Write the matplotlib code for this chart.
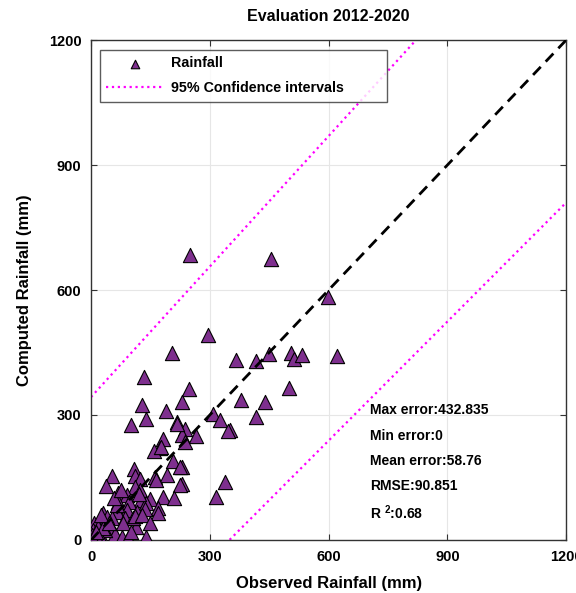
import matplotlib
matplotlib.use("Agg")
import matplotlib.pyplot as plt
import numpy as np

plt.rcParams['font.family'] = ['Liberation Sans', 'DejaVu Sans']
plt.rcParams['font.weight'] = 'bold'
plt.rcParams['mathtext.fontset'] = 'custom'
plt.rcParams['mathtext.bf'] = 'Liberation Sans:bold'
plt.rcParams['mathtext.rm'] = 'Liberation Sans:bold'

# observed vs computed rainfall (mm)
observed = [251, 455, 599, 295, 204, 367, 416, 449, 504, 512, 534, 622, 135, 248, 500,
            130, 231, 379, 440, 189, 140, 216, 307, 325, 417, 350, 345, 237, 231, 265,
            237, 229, 229, 338, 315,
            102, 218, 182, 174, 160, 176, 207, 224, 109, 54, 37, 111, 123, 161, 191,
            165, 224, 111, 123, 69, 92, 182, 210, 149, 126, 69, 96, 168, 140, 90,
            115, 65, 35, 31, 8, 113, 86, 107, 52, 50, 6, 18, 10, 28, 60,
            77, 94, 140, 35, 2, 18, 136, 170, 111, 65, 40, 23, 31, 14, 5,
            45, 80, 100, 120, 130, 150, 58, 75, 12, 25]
computed = [684, 674, 584, 492, 448, 432, 430, 446, 449, 434, 444, 442, 392, 362, 364,
            324, 332, 336, 332, 310, 291, 284, 302, 288, 296, 265, 262, 266, 252, 250,
            236, 176, 134, 140, 102,
            276, 278, 242, 220, 214, 222, 190, 176, 170, 154, 130, 154, 146, 150, 156,
            144, 132, 128, 120, 112, 108, 102, 100, 98, 96, 90, 90, 76, 88, 72,
            66, 68, 50, 64, 40, 30, 52, 52, 52, 32, 24, 12, 0, 4, 14,
            8, 4, 8, 24, 12, 32, 74, 64, 58, 84, 56, 8, 28, 4, 2,
            40, 40, 20, 110, 60, 40, 100, 120, 18, 60]

one_to_one = [0, 1200]
ci_x = [0, 1200]
ci_upper = [343, 1596]
ci_lower = [-333, 810]

stats = ["Max error:432.835", "Min error:0", "Mean error:58.76", "RMSE:90.851",
         r"R $^{\mathbf{2}}$:0.68"]

fig = plt.figure(figsize=(5.76, 5.93), dpi=100)
ax = fig.add_axes([0.158, 0.0894, 0.825, 0.8431])

ax.grid(True, color='#e6e6e6', linewidth=0.8, zorder=0)
ax.scatter(observed, computed, marker='^', s=105, facecolor='#7E2F8E',
           edgecolor='black', linewidth=0.8, zorder=3, label='Rainfall')
ax.plot(one_to_one, one_to_one, color='black', linestyle=(0, (4, 2.6)),
        linewidth=2, zorder=4)
ax.plot(ci_x, ci_upper, color='#FF00FF', linestyle=':', linewidth=1.6,
        zorder=2, label='95% Confidence intervals')
ax.plot(ci_x, ci_lower, color='#FF00FF', linestyle=':', linewidth=1.6, zorder=2)

ax.set_xlim(0, 1200)
ax.set_ylim(0, 1200)
ax.set_xticks([0, 300, 600, 900, 1200])
ax.set_yticks([0, 300, 600, 900, 1200])
ax.tick_params(direction='in', top=True, right=True, labelsize=10.5,
               length=4, color='#333333', pad=7)
for sp in ax.spines.values():
    sp.set_color('#333333')
    sp.set_linewidth(1)

ax.set_title("Evaluation 2012-2020", fontsize=11.5, fontweight='bold', pad=14)
ax.set_xlabel("Observed Rainfall (mm)", fontsize=12, fontweight='bold', labelpad=9)
ax.set_ylabel("Computed Rainfall (mm)", fontsize=12, fontweight='bold', labelpad=12)

ys = [312, 250, 190, 130, 65]
for t, yv in zip(stats, ys):
    ax.text(705, yv, t, fontsize=10, fontweight='bold', va='center', zorder=5)

leg = ax.legend(loc='upper left', bbox_to_anchor=(0.019, 0.75, 0.604, 0.23),
                mode='expand', fontsize=10.3, frameon=True, fancybox=False,
                edgecolor='#333333', markerscale=0.6, handlelength=4.0,
                borderpad=0.45, borderaxespad=0, labelspacing=0.75,
                handletextpad=0.5)
leg.get_frame().set_linewidth(1)

fig.savefig("out.png", dpi=100)
